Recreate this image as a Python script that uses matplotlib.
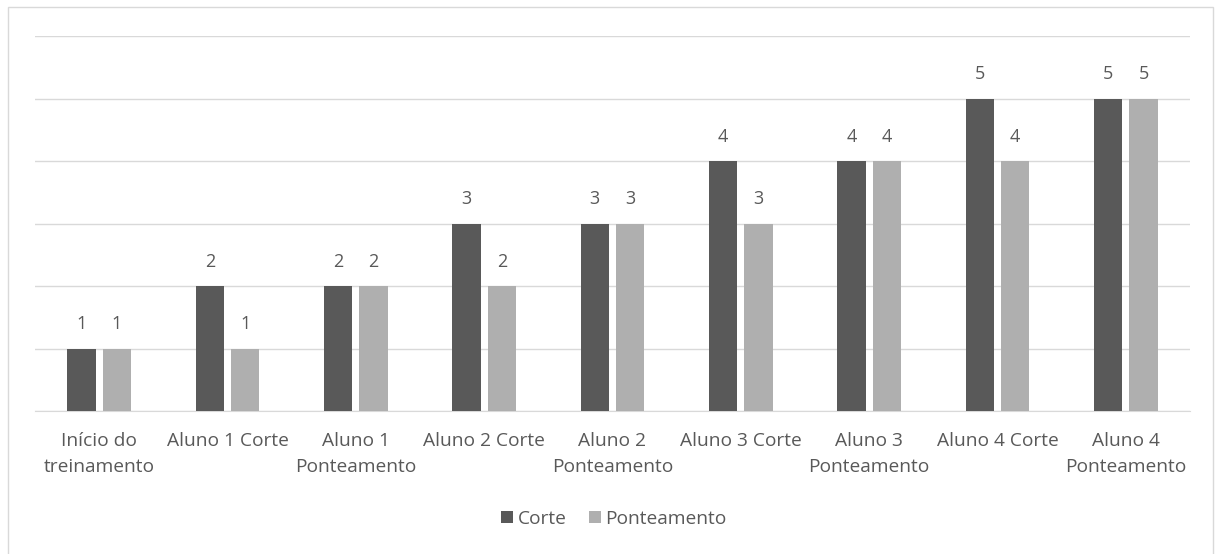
import numpy as np
import matplotlib.pyplot as plt
from matplotlib.patches import Rectangle

categorias = ['Início do\ntreinamento', 'Aluno 1 Corte', 'Aluno 1\nPonteamento',
              'Aluno 2 Corte', 'Aluno 2\nPonteamento', 'Aluno 3 Corte',
              'Aluno 3\nPonteamento', 'Aluno 4 Corte', 'Aluno 4\nPonteamento']
corte = [1, 2, 2, 3, 3, 4, 4, 5, 5]
ponteamento = [1, 1, 2, 2, 3, 3, 4, 4, 5]

cor_corte = '#595959'
cor_pont = '#afafaf'
cor_texto = '#595959'

plt.rcParams['font.family'] = ['Open Sans', 'DejaVu Sans']

fig = plt.figure(figsize=(12.16, 5.54), dpi=100)
ax = fig.add_axes([35 / 1216, 1 - 411 / 554, 1155 / 1216, 375 / 554])

x = np.arange(len(categorias))
w = 0.22
gap = 0.055
b1 = ax.bar(x - (w + gap) / 2, corte, width=w, color=cor_corte, zorder=3)
b2 = ax.bar(x + (w + gap) / 2, ponteamento, width=w, color=cor_pont, zorder=3)

for bars in (b1, b2):
    for r in bars:
        ax.text(r.get_x() + r.get_width() / 2, r.get_height() + 0.39,
                str(int(r.get_height())), ha='center', va='center',
                fontsize=13, color=cor_texto)

ax.set_xlim(-0.5, len(categorias) - 0.5)
ax.set_ylim(0, 6)
ax.set_yticks(range(0, 7))
ax.yaxis.grid(True, color='#d9d9d9', linewidth=1, zorder=0)
ax.tick_params(axis='y', left=False, labelleft=False)
ax.tick_params(axis='x', length=0, pad=15)
ax.set_xticks(x)
ax.set_xticklabels(categorias, fontsize=13.8, color=cor_texto, linespacing=1.6)
for s in ['top', 'right', 'left']:
    ax.spines[s].set_visible(False)
ax.spines['bottom'].set_color('#d9d9d9')

leg = fig.legend(handles=[b1, b2], labels=['Corte', 'Ponteamento'], loc='center',
                 bbox_to_anchor=(614 / 1216, 1 - 519 / 554), ncol=2, frameon=False,
                 fontsize=13.8, handlelength=0.6, handleheight=0.6,
                 handletextpad=0.25, columnspacing=1.2)
for t in leg.get_texts():
    t.set_color(cor_texto)

fig.patches.append(Rectangle((8 / 1216, -0.01), 1205 / 1216, 1 - 7 / 554 + 0.01,
                             transform=fig.transFigure, fill=False,
                             edgecolor='#d9d9d9', linewidth=1))

fig.savefig('out.png', dpi=100)
